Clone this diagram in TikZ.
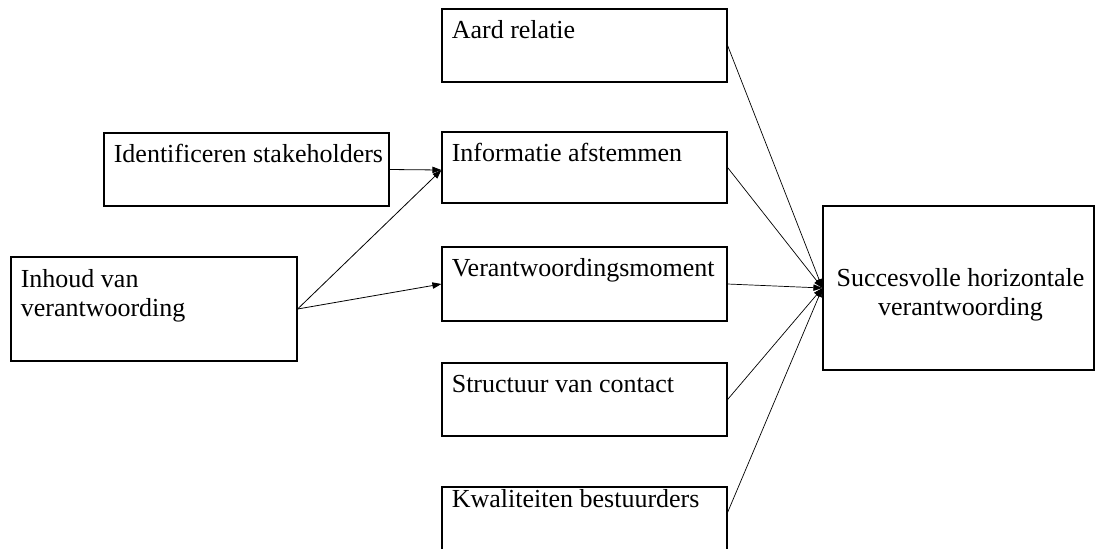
\documentclass[tikz,border=0pt]{standalone}
\usepackage{fontspec}
\setmainfont{Liberation Serif}
\usepackage{tikz}
\usetikzlibrary{arrows.meta, positioning, calc}

\begin{document}
\begin{tikzpicture}[
  x=0.5pt, y=-0.5pt,
  % --- styles ------------------------------------------------------------
  blok/.style={
    rectangle, draw, line width=0.6pt, inner sep=0pt,
    minimum width=142.5pt
  },
  tekst/.style={anchor=base west, inner sep=0pt,
    font=\fontsize{13}{14.5}\selectfont, align=left},
  pijl/.style={-{Triangle[length=4.5pt, width=3.2pt]}, line width=0.4pt},
  lijn/.style={-{Triangle[length=4.5pt, width=3.2pt]}, line width=0.35pt}
]
\useasboundingbox (0,0) rectangle (1104,548);
\clip (0,0) rectangle (1104,548);

% --------------------- middle column -------------------------------------
\node[blok, minimum height=36.5pt] (aard)   at (584.5,45.5)  {};
\node[blok, minimum height=35.5pt] (info)   at (584.5,167.5) {};
\node[blok, minimum height=37pt]   (moment) at (584.5,284)   {};
\node[blok, minimum height=36.5pt] (struct) at (584.5,399.5) {};
\node[blok, minimum height=40pt]   (kwal)   at (584.5,527)   {}; % runs off the page

\node[tekst] (aardt)   at ($(aard.north west)+(10,30)$)   {Aard relatie};
\node[tekst] (infot)   at ($(info.north west)+(10,30)$)   {Informatie afstemmen};
\node[tekst] (momentt) at ($(moment.north west)+(10,30)$) {Verantwoordingsmoment};
\node[tekst] (structt) at ($(struct.north west)+(10,30)$) {Structuur van contact};
\node[tekst] (kwalt)   at ($(kwal.north west)+(10,21)$)   {Kwaliteiten bestuurders};

% --------------------- left boxes ----------------------------------------
\node[blok, minimum height=36.5pt] (ident)  at (246.5,169.5) {};
\node[blok, minimum width=143pt, minimum height=52pt] (inhoud) at (154,309) {};

\node[tekst] (identt)  at ($(ident.north west)+(10,30)$)  {Identificeren stakeholders};
\node[tekst] (inhoudt) at ($(inhoud.north west)+(10,60)$) {Inhoud van\\verantwoording}; % base = last line

% --------------------- result box ----------------------------------------
\node[blok, minimum width=135.5pt, minimum height=82pt] (succ) at (958.5,288) {};
\node[anchor=center, inner sep=0pt, font=\fontsize{13}{14.5}\selectfont, align=center]
     (succt) at ($(succ.center)+(2,7)$) {Succesvolle horizontale\\verantwoording};

% --------------------- arrows into the middle column ---------------------
\draw[pijl] (ident.east) -- ($(info.west)+(0,2.5)$);
\draw[pijl] (inhoud.east) -- ($(info.west)+(0,2.5)$);
\draw[pijl] (inhoud.east) -- (moment.west);

% --------------------- lines into the result box -------------------------
\coordinate (kwaluit) at ($(kwal.north east)+(0,26)$);
\draw[lijn] (aard.east)   -- (succ.west);
\draw[lijn] (info.east)   -- (succ.west);
\draw[lijn] (moment.east) -- (succ.west);
\draw[lijn] (struct.east) -- (succ.west);
\draw[lijn] (kwaluit)     -- (succ.west);

\end{tikzpicture}
\end{document}
